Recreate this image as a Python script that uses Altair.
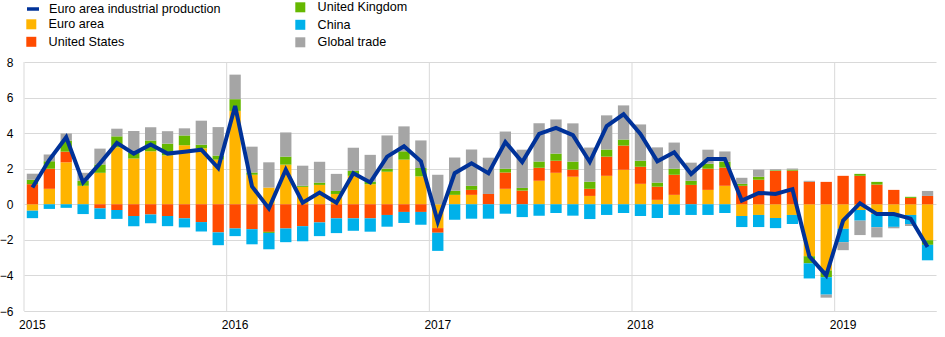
import altair as alt
import pandas as pd

months = [f"{y}-{m:02d}" for y in range(2015, 2020) for m in range(1, 13)][:54]

euro_area = [-0.36, 0.87, 2.36, 1.04, 1.77, 3.2, 2.57, 2.98, 2.75, 3.32, 3.15, 2.51,
             5.25, 1.66, 0.94, 2.23, 0.98, 1.09, 0.58, 1.6, 1.13, 1.83, 2.51, 1.57,
             -1.34, 0.53, 0.53, 0.0, 0.87, 0.0, 1.32, 1.77, 1.55, 0.47, 1.6, 1.94,
             1.15, 0.25, 0.53, 0.0, 0.81, 1.04, -0.66, -0.6, -0.77, -0.6, -2.92, -3.72,
             -1.38, -0.32, -0.55, -0.55, -0.6, -2.02]
united_states = [1.13, 1.13, 0.6, 0.0, -0.23, -0.32, -0.66, -0.57, -0.66, -0.79, -1.0, -1.58,
                 -1.36, -1.4, -1.55, -1.36, -1.23, -1.02, -0.79, -0.79, -0.79, -0.6, -0.43, -0.43,
                 -0.26, 0.0, 0.28, 0.58, 0.92, 0.77, 0.74, 0.68, 0.4, 0.4, 1.08, 1.36,
                 0.96, 0.74, 1.13, 1.09, 1.19, 1.02, 1.04, 1.38, 1.87, 1.89, 1.26, 1.26,
                 1.6, 1.6, 1.11, 0.81, 0.36, 0.47]
united_kingdom = [0.25, 0.42, 0.62, 0.28, 0.47, 0.62, 0.32, 0.6, 0.66, 0.55, 0.2, 0.23,
                  0.66, 0.13, -0.06, 0.45, 0.06, 0.13, 0.17, 0.28, 0.15, 0.17, 0.47, 0.47,
                  0.0, 0.23, 0.23, 0.0, 0.21, 0.15, 0.34, 0.4, 0.45, 0.4, 0.4, 0.34,
                  0.34, 0.23, 0.34, 0.23, 0.28, 0.34, 0.11, 0.17, 0.04, 0.06, -0.4, -0.38,
                  0.0, 0.11, 0.15, 0.0, 0.06, -0.26]
china = [-0.42, -0.26, -0.2, -0.55, -0.6, -0.5, -0.57, -0.49, -0.57, -0.51, -0.53, -0.72,
         -0.43, -0.85, -0.92, -0.77, -0.85, -0.77, -0.83, -0.7, -0.75, -0.66, -0.62, -0.72,
         -1.02, -0.87, -0.81, -0.81, -0.53, -0.72, -0.64, -0.49, -0.64, -0.83, -0.6, -0.49,
         -0.66, -0.77, -0.6, -0.6, -0.6, -0.49, -0.62, -0.68, -0.57, -0.51, -0.85, -0.98,
         -0.75, -0.6, -0.74, -0.72, -0.51, -0.87]
global_trade = [0.34, 0.38, 0.4, 0.45, 0.89, 0.43, 1.23, 0.75, 0.7, 0.4, 1.35, 1.6,
                1.38, 1.45, 1.42, 1.36, 1.13, 1.17, 0.96, 1.3, 1.5, 1.87, 1.4, 1.55,
                1.66, 1.87, 2.04, 2.04, 2.09, 2.15, 2.15, 1.92, 2.15, 1.92, 1.92, 1.92,
                2.04, 1.98, 1.47, 1.02, 0.79, 0.57, 0.34, 0.4, 0.06, 0.06, 0.06, -0.17,
                -0.45, -0.81, -0.57, -0.08, -0.11, 0.28]
industrial_production = [0.94, 2.5, 3.77, 1.23, 2.3, 3.45, 2.85, 3.36, 2.85, 2.96, 3.07, 2.04,
                         5.53, 1.0, -0.23, 1.94, 0.09, 0.66, 0.09, 1.75, 1.23, 2.68, 3.26, 2.42,
                         -0.98, 1.75, 2.3, 1.75, 3.5, 2.38, 3.96, 4.3, 3.89, 2.38, 4.4, 5.06,
                         3.96, 2.42, 2.92, 1.7, 2.55, 2.55, 0.21, 0.64, 0.58, 0.85, -2.92, -4.0,
                         -0.92, 0.06, -0.55, -0.55, -0.81, -2.4]

series_names = ["Euro area", "United States", "United Kingdom", "China", "Global trade"]
series_values = [euro_area, united_states, united_kingdom, china, global_trade]
series_colors = ["#FFB400", "#FF4B00", "#65B800", "#00B1EA", "#A5A5A5"]
line_name = "Euro area industrial production"
line_color = "#003299"
FONT = "Liberation Sans"

rows = []
for i, m in enumerate(months):
    pos, neg = 0.0, 0.0
    for name, vals in zip(series_names, series_values):
        v = vals[i]
        if v >= 0:
            y0, y1 = pos, pos + v
            pos = y1
        else:
            y0, y1 = neg, neg + v
            neg = y1
        rows.append({"month": m, "series": name, "value": v, "y0": y0, "y1": y1})
bars = pd.DataFrame(rows)
line_df = pd.DataFrame({"month": months, "ip": industrial_production, "series": line_name})
jan = [m for m in months if m.endswith("-01")]
years_df = pd.DataFrame({"month": jan})

x_scale = alt.Scale(domain=months, paddingInner=0, paddingOuter=0)
x_axis = alt.Axis(values=jan, labelExpr="slice(datum.value, 0, 4)", grid=False, ticks=False,
                  tickSize=0, domainColor="#D9D9D9", labelAngle=0, labelPadding=8, title=None,
                  labelOverlap=False)
y_scale = alt.Scale(domain=[-6, 8], nice=False, zero=False)
y_axis = alt.Axis(values=list(range(-6, 9, 2)), grid=True, gridColor="#D9D9D9", domain=False,
                  ticks=False, tickSize=0, labelPadding=11, title=None)

rules = alt.Chart(years_df).mark_rule(color="#D9D9D9", strokeWidth=1).encode(
    x=alt.X("month:O", bandPosition=0, scale=x_scale, axis=x_axis)
)

group_a = ["Euro area", "United States"]
group_b = ["United Kingdom", "China", "Global trade"]


def bar_layer(names, lx, ly):
    cols = [series_colors[series_names.index(n)] for n in names]
    return alt.Chart(bars[bars["series"].isin(names)]).mark_bar(width={"band": 0.67}).encode(
        x=alt.X("month:O", scale=x_scale, axis=x_axis),
        y=alt.Y("y0:Q", scale=y_scale, axis=y_axis),
        y2="y1",
        color=alt.Color("series:N", scale=alt.Scale(domain=names, range=cols),
                        legend=alt.Legend(title=None, orient="none", legendX=lx, legendY=ly,
                                          symbolType="square", symbolSize=100, labelOffset=11,
                                          rowPadding=4.5, labelLimit=0)),
    )


bars_a = bar_layer(group_a, 1, -44)
bars_b = bar_layer(group_b, 270, -61)

line = alt.Chart(line_df).mark_line(strokeWidth=4).encode(
    x=alt.X("month:O", bandPosition=0.5, scale=x_scale, axis=x_axis),
    y=alt.Y("ip:Q", scale=y_scale, axis=y_axis),
    color=alt.Color("series:N", scale=alt.Scale(domain=[line_name], range=[line_color]),
                    legend=alt.Legend(title=None, orient="none", legendX=1, legendY=-61,
                                      symbolType="stroke", symbolSize=144, symbolStrokeWidth=3.5,
                                      labelOffset=8, labelLimit=0)),
)

chart = alt.layer(rules, bars_a, bars_b, line).resolve_scale(color="independent").properties(
    width=912, height=249,
    autosize=alt.AutoSizeParams(type="none"),
    padding={"left": 24, "top": 62, "right": 9, "bottom": 26},
).configure_view(stroke=None).configure_axis(
    labelFont=FONT, labelFontSize=12, labelColor="#000000"
).configure_legend(
    labelFont=FONT, labelFontSize=12.6, labelColor="#000000", padding=0, labelLimit=0
)

chart.save("out.html", embed_options={"renderer": "svg", "actions": False})
